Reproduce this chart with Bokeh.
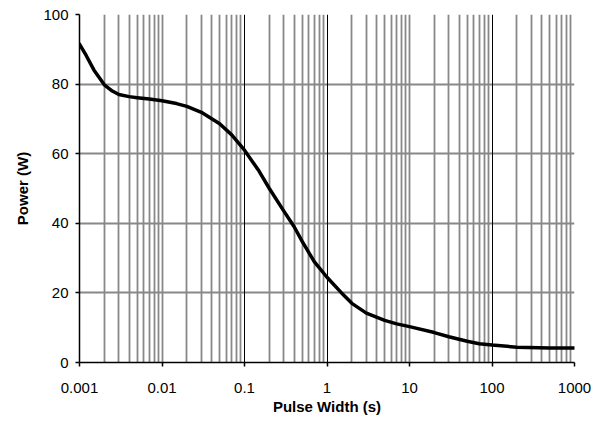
from bokeh.plotting import figure
from bokeh.models import FixedTicker, Grid, ColumnDataSource
from bokeh.embed import file_html
from bokeh.resources import INLINE

# Data
pulse_width = [0.001, 0.0012, 0.0015, 0.002, 0.0025, 0.003, 0.004, 0.005, 0.007, 0.01,
               0.015, 0.02, 0.03, 0.05, 0.07, 0.1, 0.15, 0.2, 0.3, 0.4, 0.5, 0.7, 1,
               1.5, 2, 3, 5, 7, 10, 20, 30, 50, 70, 100, 200, 500, 1000]
power = [91.5, 88.3, 84.0, 79.8, 78.0, 77.0, 76.4, 76.1, 75.7, 75.2,
         74.4, 73.6, 71.9, 68.6, 65.4, 61.0, 55.0, 50.0, 43.5, 39.0, 34.8, 29.0, 24.5,
         20.0, 17.0, 14.2, 12.1, 11.1, 10.3, 8.6, 7.4, 6.1, 5.4, 5.0, 4.4, 4.2, 4.2]

x_decades = [0.001, 0.01, 0.1, 1, 10, 100, 1000]
x_labels = ["0.001", "0.01", "0.1", "1", "10", "100", "1000"]
y_ticks = [0, 20, 40, 60, 80, 100]
dark_decades = [0.1, 1, 100]

minor_x = []
for d in x_decades[:-1]:
    for m in range(2, 10):
        minor_x.append(round(d * m, 6))
gray_x = minor_x + [0.01, 10, 1000]

FONT = "Liberation Sans"

p = figure(width=592, height=421, x_axis_type="log",
           x_range=(0.001, 1000), y_range=(0, 100),
           output_backend="svg", toolbar_location=None,
           min_border_left=79, min_border_right=18,
           min_border_top=14, min_border_bottom=59)
p.outline_line_color = None
p.background_fill_color = "white"

# axes
p.xaxis.ticker = FixedTicker(ticks=x_decades, minor_ticks=[])
p.xaxis.major_label_overrides = {v: s for v, s in zip(x_decades, x_labels)}
p.yaxis.ticker = FixedTicker(ticks=y_ticks, minor_ticks=[])
for ax in (p.xaxis[0], p.yaxis[0]):
    ax.axis_line_color = "black"
    ax.axis_line_width = 1.5
    ax.major_tick_line_color = "black"
    ax.major_tick_line_width = 1.5
    ax.major_tick_out = 4
    ax.major_tick_in = 0
    ax.minor_tick_line_color = None
    ax.major_label_text_font = FONT
    ax.major_label_text_font_size = "15px"
    ax.major_label_text_color = "black"
    ax.axis_label_text_font = FONT
    ax.axis_label_text_font_size = "15px"
    ax.axis_label_text_font_style = "bold"
    ax.axis_label_text_color = "black"

p.xaxis.axis_label = "Pulse Width (s)"
p.xaxis.major_label_standoff = 16
p.xaxis.axis_label_standoff = 2
p.yaxis.axis_label = "Power (W)"
p.yaxis.major_label_standoff = 7
p.yaxis.axis_label_standoff = 9

# grids
p.xgrid.ticker = FixedTicker(ticks=gray_x)
p.xgrid.grid_line_color = "#888888"
p.xgrid.grid_line_width = 1.8
p.ygrid.ticker = FixedTicker(ticks=y_ticks[1:])
p.ygrid.grid_line_color = "#888888"
p.ygrid.grid_line_width = 1.8
dark = Grid(dimension=0, ticker=FixedTicker(ticks=dark_decades),
            grid_line_color="black", grid_line_width=1)
p.add_layout(dark)

src = ColumnDataSource(dict(x=pulse_width, y=power))
p.line("x", "y", source=src, line_color="black", line_width=3.5,
       line_join="round", line_cap="round")

open("out.html", "w").write(file_html(p, INLINE))
